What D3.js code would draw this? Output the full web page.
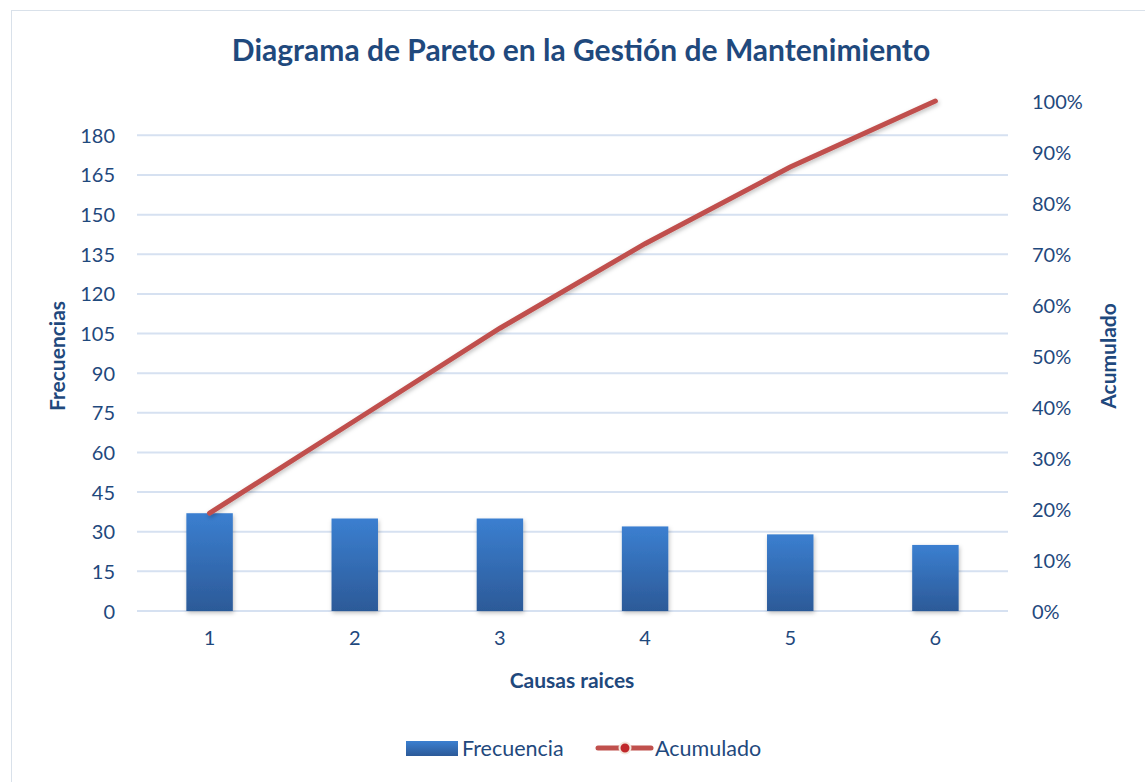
<!DOCTYPE html>
<html>
<head>
  <meta charset="utf-8">
  <title>Diagrama de Pareto</title>
  <script src="https://d3js.org/d3.v7.min.js"></script>
  <style>
    body { margin: 0; background: #fff; }
    text { font-family: Lato, "Open Sans", sans-serif; }
  </style>
</head>
<body>
  <svg id="chart" width="1145" height="782"></svg>
  <script>
    // data
    var causas = ["1", "2", "3", "4", "5", "6"];
    var frecuencia = [37, 35, 35, 32, 29, 25];
    var leftTicks = [0, 15, 30, 45, 60, 75, 90, 105, 120, 135, 150, 165, 180];
    var rightTicks = [0, 0.1, 0.2, 0.3, 0.4, 0.5, 0.6, 0.7, 0.8, 0.9, 1];

    var total = d3.sum(frecuencia);
    var acumulado = d3.cumsum(frecuencia).map(function(v) { return v / total; });

    var navy = "#1f497d";
    var margin = { top: 101, left: 137, bottom: 171, right: 137 };
    var svg = d3.select("#chart");
    var W = +svg.attr("width"), H = +svg.attr("height");

    // chart frame
    svg.append("rect").attr("x", 11.5).attr("y", 10.5)
      .attr("width", W).attr("height", H)
      .attr("fill", "#fff").attr("stroke", "#d9e1ea");

    var defs = svg.append("defs");
    var grad = defs.append("linearGradient").attr("id", "barGrad")
      .attr("x1", 0).attr("y1", 0).attr("x2", 0).attr("y2", 1);
    grad.append("stop").attr("offset", "0%").attr("stop-color", "#3b7fd0");
    grad.append("stop").attr("offset", "100%").attr("stop-color", "#2c5a98");
    var shadow = defs.append("filter").attr("id", "shadow")
      .attr("x", "-20%").attr("y", "-20%").attr("width", "140%").attr("height", "140%");
    shadow.append("feDropShadow").attr("dx", 1).attr("dy", 2)
      .attr("stdDeviation", 2).attr("flood-color", "#000").attr("flood-opacity", 0.25);

    var x = d3.scaleBand()
      .domain(causas)
      .range([margin.left, W - margin.right])
      .paddingInner(0.68).paddingOuter(0.34);
    var y = d3.scaleLinear().domain([0, total]).range([H - margin.bottom, margin.top]);
    var y2 = d3.scaleLinear().domain([0, 1]).range([H - margin.bottom, margin.top]);

    // gridlines
    svg.append("g").selectAll("line").data(leftTicks).enter().append("line")
      .attr("x1", margin.left).attr("x2", W - margin.right)
      .attr("y1", function(d) { return y(d); }).attr("y2", function(d) { return y(d); })
      .attr("stroke", "#d6e1f1").attr("stroke-width", 2);

    // left axis
    var yAxis = svg.append("g")
      .attr("transform", "translate(" + (margin.left - 22) + ",0)")
      .call(d3.axisLeft(y).tickValues(leftTicks).tickSize(0).tickPadding(0));
    yAxis.select(".domain").remove();

    // right axis
    var y2Axis = svg.append("g")
      .attr("transform", "translate(" + (W - margin.right + 24) + ",0)")
      .call(d3.axisRight(y2).tickValues(rightTicks).tickSize(0).tickPadding(0)
        .tickFormat(d3.format(".0%")));
    y2Axis.select(".domain").remove();

    // bottom axis
    var xAxis = svg.append("g")
      .attr("transform", "translate(0," + (H - margin.bottom + 20) + ")")
      .call(d3.axisBottom(x).tickSize(0).tickPadding(0));
    xAxis.select(".domain").remove();

    svg.selectAll(".tick text")
      .attr("fill", navy).style("font-size", "20px");
    yAxis.selectAll(".tick text").attr("dy", "0.35em");
    y2Axis.selectAll(".tick text").attr("dy", "0.35em");
    xAxis.selectAll(".tick text").attr("dy", "0.7em");

    // bars
    svg.append("g").selectAll("rect").data(frecuencia).enter().append("rect")
      .attr("x", function(d, i) { return x(causas[i]); })
      .attr("y", function(d) { return y(d); })
      .attr("width", x.bandwidth())
      .attr("height", function(d) { return y(0) - y(d); })
      .attr("fill", "url(#barGrad)")
      .attr("filter", "url(#shadow)");

    // cumulative line
    var line = d3.line()
      .x(function(d, i) { return x(causas[i]) + x.bandwidth() / 2; })
      .y(function(d) { return y2(d); });
    svg.append("path").datum(acumulado)
      .attr("d", line)
      .attr("fill", "none").attr("stroke", "#c0504d")
      .attr("stroke-width", 5).attr("stroke-linecap", "round")
      .attr("filter", "url(#shadow)");

    // titles
    svg.append("text").attr("x", 581).attr("y", 61)
      .attr("text-anchor", "middle").attr("fill", navy)
      .style("font-size", "30px").style("font-weight", "bold")
      .text("Diagrama de Pareto en la Gestión de Mantenimiento");

    svg.append("text").attr("x", 572).attr("y", 688)
      .attr("text-anchor", "middle").attr("fill", navy)
      .style("font-size", "21px").style("font-weight", "bold")
      .text("Causas raices");

    svg.append("text")
      .attr("transform", "translate(65,356) rotate(-90)")
      .attr("text-anchor", "middle").attr("fill", navy)
      .style("font-size", "21px").style("font-weight", "bold")
      .text("Frecuencias");

    svg.append("text")
      .attr("transform", "translate(1116,356) rotate(-90)")
      .attr("text-anchor", "middle").attr("fill", navy)
      .style("font-size", "21px").style("font-weight", "bold")
      .text("Acumulado");

    // legend
    var legend = svg.append("g");
    legend.append("rect").attr("x", 406).attr("y", 741)
      .attr("width", 52).attr("height", 15).attr("fill", "url(#barGrad)");
    legend.append("text").attr("x", 462).attr("y", 756)
      .attr("fill", navy).style("font-size", "21.5px").text("Frecuencia");
    legend.append("line").attr("x1", 598).attr("x2", 651)
      .attr("y1", 748).attr("y2", 748)
      .attr("stroke", "#c0504d").attr("stroke-width", 5).attr("stroke-linecap", "round");
    legend.append("circle").attr("cx", 625).attr("cy", 748).attr("r", 5.5)
      .attr("fill", "#c0282a").attr("stroke", "#f3e6dc").attr("stroke-width", 2);
    legend.append("text").attr("x", 655).attr("y", 756)
      .attr("fill", navy).style("font-size", "21.5px").text("Acumulado");
  </script>
</body>
</html>
